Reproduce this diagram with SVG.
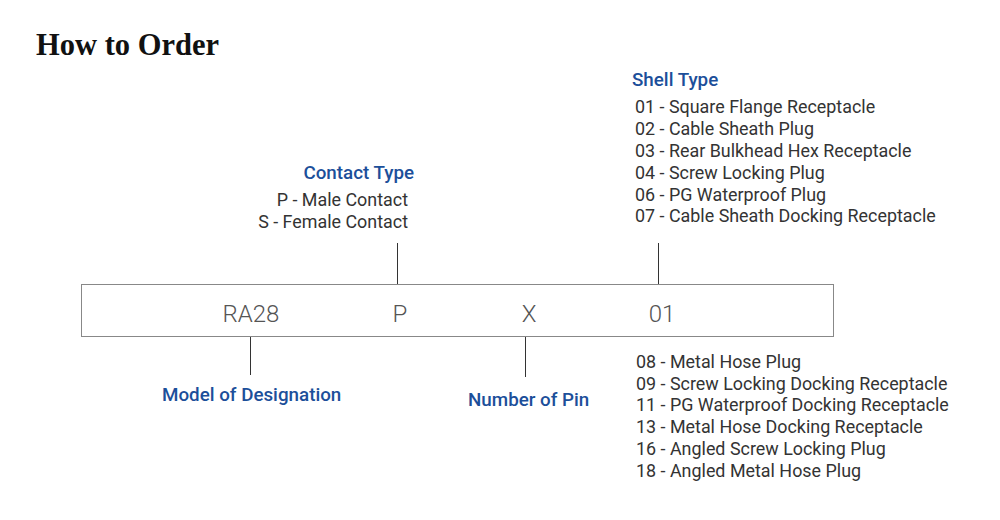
<svg xmlns="http://www.w3.org/2000/svg" width="1000" height="520" viewBox="0 0 1000 520">
<style>
.title{font-family:"Liberation Serif","Noto Serif",serif;font-weight:bold;font-size:30.5px;fill:#111}
.lbl{font-family:Roboto,"Noto Sans",sans-serif;font-weight:500;font-size:18.8px;fill:#1c4f9a}
.item{font-family:Roboto,"Noto Sans",sans-serif;font-size:17.9px;fill:#333}
.code{font-family:Roboto,"Noto Sans",sans-serif;font-weight:300;font-size:24px;fill:#555;text-anchor:middle}
.ln{stroke:#333;stroke-width:1;fill:none}
</style>
<rect width="1000" height="520" fill="#fff"/>
<text class="title" x="36" y="55">How to Order</text>
<g id="box">
<rect x="81.5" y="284.5" width="752" height="52" fill="#fff" stroke="#888" stroke-width="1"/>
<text class="code" x="251" y="322">RA28</text>
<text class="code" x="400" y="322">P</text>
<text class="code" x="529" y="322">X</text>
<text class="code" x="662" y="322">01</text>
</g>
<g id="connectors">
<line class="ln" x1="397.5" y1="243" x2="397.5" y2="284"/>
<line class="ln" x1="658.5" y1="243" x2="658.5" y2="284"/>
<line class="ln" x1="250.5" y1="337" x2="250.5" y2="375"/>
<line class="ln" x1="525.5" y1="337" x2="525.5" y2="377"/>
</g>
<g id="contact-type">
<text class="lbl" x="414" y="179" text-anchor="end">Contact Type</text>
<text class="item" x="408" y="206" text-anchor="end">P - Male Contact</text>
<text class="item" x="408" y="228" text-anchor="end">S - Female Contact</text>
</g>
<g id="shell-type">
<text class="lbl" x="632" y="86">Shell Type</text>
<text class="item" x="635" y="113">01 - Square Flange Receptacle</text>
<text class="item" x="635" y="135">02 - Cable Sheath Plug</text>
<text class="item" x="635" y="157">03 - Rear Bulkhead Hex Receptacle</text>
<text class="item" x="635" y="179">04 - Screw Locking Plug</text>
<text class="item" x="635" y="201">06 - PG Waterproof Plug</text>
<text class="item" x="635" y="222">07 - Cable Sheath Docking Receptacle</text>
</g>
<g id="shell-type-more">
<text class="item" x="636" y="368">08 - Metal Hose Plug</text>
<text class="item" x="636" y="390">09 - Screw Locking Docking Receptacle</text>
<text class="item" x="636" y="411">11 - PG Waterproof Docking Receptacle</text>
<text class="item" x="636" y="433">13 - Metal Hose Docking Receptacle</text>
<text class="item" x="636" y="455">16 - Angled Screw Locking Plug</text>
<text class="item" x="636" y="477">18 - Angled Metal Hose Plug</text>
</g>
<g id="model">
<text class="lbl" x="162" y="401">Model of Designation</text>
</g>
<g id="pin">
<text class="lbl" x="468" y="406">Number of Pin</text>
</g>
</svg>
